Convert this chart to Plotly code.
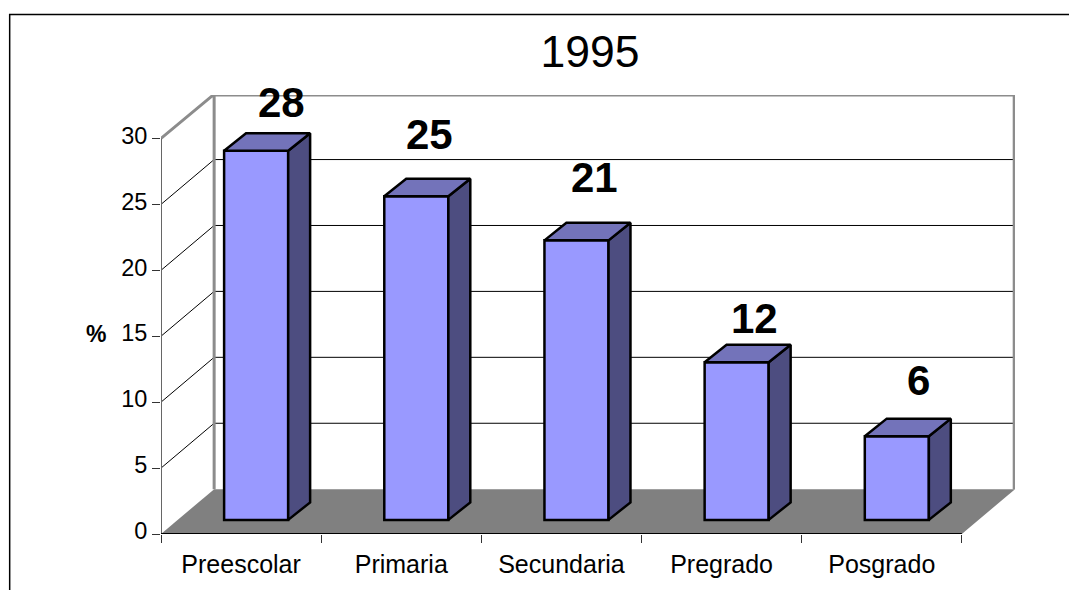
import plotly.graph_objects as go

# chart values
title = "1995"
categories = ["Preescolar", "Primaria", "Secundaria", "Pregrado", "Posgrado"]
bar_values = [28.0, 24.55, 21.2, 11.95, 6.35]
bar_labels = ["28", "25", "21", "12", "6"]
y_ticks = [0, 5, 10, 15, 20, 25, 30]

FONT = "Liberation Sans, Arial, sans-serif"
FRONT = "#9999FF"
TOP = "#7373BA"
SIDE = "#4D4D80"
WALL = "#8C8C8C"
FLOOR = "#808080"

# plot area in page pixels
LEFT, RIGHT, TOP_PX, BOTTOM = 160.5, 1015.5, 94.5, 536.0
WIDTH, HEIGHT = 1069, 590
X_UNIT = 160.36  # px per category
Y_UNIT = 13.26  # px per percent

# 3d look, in axis units
WALL_DX = (RIGHT - LEFT) / X_UNIT - 5
WALL_DY = 3.4
BAR_WIDTH = 0.4
BAR_SHIFT = 0.094
BAR_BASE = 1.07
BAR_DX = 0.137
BAR_DY = 1.33

# label placement next to each bar top, px
label_dx = [25, 13, 18, 18, 22]
label_dy = [48, 62, 63, 44, 56]


def page_x(px):
    return (px - LEFT) / (RIGHT - LEFT)


def page_y(px):
    return (BOTTOM - px) / (BOTTOM - TOP_PX)


x0 = -0.5
x1 = x0 + len(categories)
bar_x = [i + BAR_SHIFT for i in range(len(categories))]

shapes = [
    # floor
    dict(
        type="path",
        path=f"M {x0},0 L {x0 + WALL_DX},{WALL_DY} L {x1 + WALL_DX},{WALL_DY} L {x1},0 Z",
        fillcolor=FLOOR,
        line_width=0,
        layer="below",
    ),
]
for tick in y_ticks[1:-1]:
    # left wall diagonal + back wall gridline
    shapes.append(
        dict(
            type="path",
            path=f"M {x0},{tick} L {x0 + WALL_DX},{tick + WALL_DY} L {x1 + WALL_DX},{tick + WALL_DY}",
            line=dict(color="black", width=1),
            layer="below",
        )
    )
# wall frame
shapes.append(
    dict(
        type="path",
        path=(
            f"M {x0},30 L {x0 + WALL_DX - 0.005},{30 + WALL_DY - 0.1} L {x1 + WALL_DX - 0.005},{30 + WALL_DY - 0.1} "
            f"L {x1 + WALL_DX - 0.005},{WALL_DY} M {x0 + WALL_DX},{30 + WALL_DY - 0.1} L {x0 + WALL_DX},{WALL_DY}"
        ),
        line=dict(color=WALL, width=3),
        layer="below",
    )
)
# axis lines
shapes.append(
    dict(type="line", x0=x0, x1=x0, y0=0, y1=30, line=dict(color="#666666", width=2), layer="below")
)
shapes.append(
    dict(type="line", x0=x0, x1=x1, y0=0, y1=0, line=dict(color="black", width=2), layer="below")
)
# outer chart frame, cut off by the page
shapes.append(
    dict(
        type="path",
        xref="paper",
        yref="paper",
        path=(
            f"M {page_x(9)},{page_y(600)} L {page_x(9)},{page_y(13.5)} "
            f"L {page_x(1075)},{page_y(13.5)}"
        ),
        line=dict(color="black", width=1.5),
    )
)

fig = go.Figure()

fig.add_trace(
    go.Bar(
        x=bar_x,
        y=bar_values,
        base=BAR_BASE,
        width=BAR_WIDTH,
        marker=dict(color=FRONT, line=dict(color="black", width=2.5)),
    )
)

# side and top faces
for bx, value in zip(bar_x, bar_values):
    left = bx - BAR_WIDTH / 2
    right = bx + BAR_WIDTH / 2
    top = BAR_BASE + value
    fig.add_trace(
        go.Scatter(
            x=[right, right + BAR_DX, right + BAR_DX, right, right],
            y=[BAR_BASE, BAR_BASE + BAR_DY, top + BAR_DY, top, BAR_BASE],
            mode="lines",
            fill="toself",
            fillcolor=SIDE,
            line=dict(color="black", width=2.5),
        )
    )
    fig.add_trace(
        go.Scatter(
            x=[left, left + BAR_DX, right + BAR_DX, right, left],
            y=[top, top + BAR_DY, top + BAR_DY, top, top],
            mode="lines",
            fill="toself",
            fillcolor=TOP,
            line=dict(color="black", width=2.5),
        )
    )

annotations = [
    dict(
        x=bx,
        y=BAR_BASE + value,
        text=f"<b>{label}</b>",
        showarrow=False,
        xshift=dx,
        yshift=dy,
        font=dict(family=FONT, size=42, color="black"),
    )
    for bx, value, label, dx, dy in zip(bar_x, bar_values, bar_labels, label_dx, label_dy)
]
annotations.append(
    dict(
        xref="paper",
        yref="paper",
        x=page_x(95.5),
        y=page_y(335),
        xanchor="center",
        yanchor="middle",
        text="<b>%</b>",
        showarrow=False,
        font=dict(family=FONT, size=23, color="black"),
    )
)

fig.update_layout(
    width=WIDTH,
    height=HEIGHT,
    margin=dict(l=LEFT, r=WIDTH - RIGHT, t=TOP_PX, b=HEIGHT - BOTTOM, pad=0),
    autosize=False,
    showlegend=False,
    paper_bgcolor="white",
    plot_bgcolor="white",
    font=dict(family=FONT, size=23.5, color="black"),
    title=dict(
        text=title,
        font=dict(family=FONT, size=44.5, color="black"),
        x=590 / WIDTH,
        xanchor="center",
        y=1 - 51 / HEIGHT,
        yanchor="middle",
    ),
    shapes=shapes,
    annotations=annotations,
    hovermode=False,
)
fig.update_xaxes(
    range=[x0, x1 + WALL_DX],
    tickmode="array",
    tickvals=list(range(len(categories))),
    ticktext=categories,
    tickfont=dict(family=FONT, size=25, color="black"),
    ticks="",
    ticklabelstandoff=13,
    showgrid=False,
    zeroline=False,
    showline=False,
    minor=dict(
        tickmode="array",
        tickvals=[x0 + i for i in range(len(categories) + 1)],
        ticks="outside",
        ticklen=8,
        tickwidth=1,
        tickcolor="#333333",
        showgrid=False,
    ),
)
fig.update_yaxes(
    range=[0, (BOTTOM - TOP_PX) / Y_UNIT],
    tickmode="array",
    tickvals=y_ticks,
    ticks="outside",
    ticklen=8,
    tickwidth=1,
    tickcolor="#333333",
    ticklabelshift=-3,
    showgrid=False,
    zeroline=False,
    showline=False,
)

fig.write_html(
    "out.html",
    config={"displayModeBar": False},
    post_script="document.body.style.margin='0';",
)
